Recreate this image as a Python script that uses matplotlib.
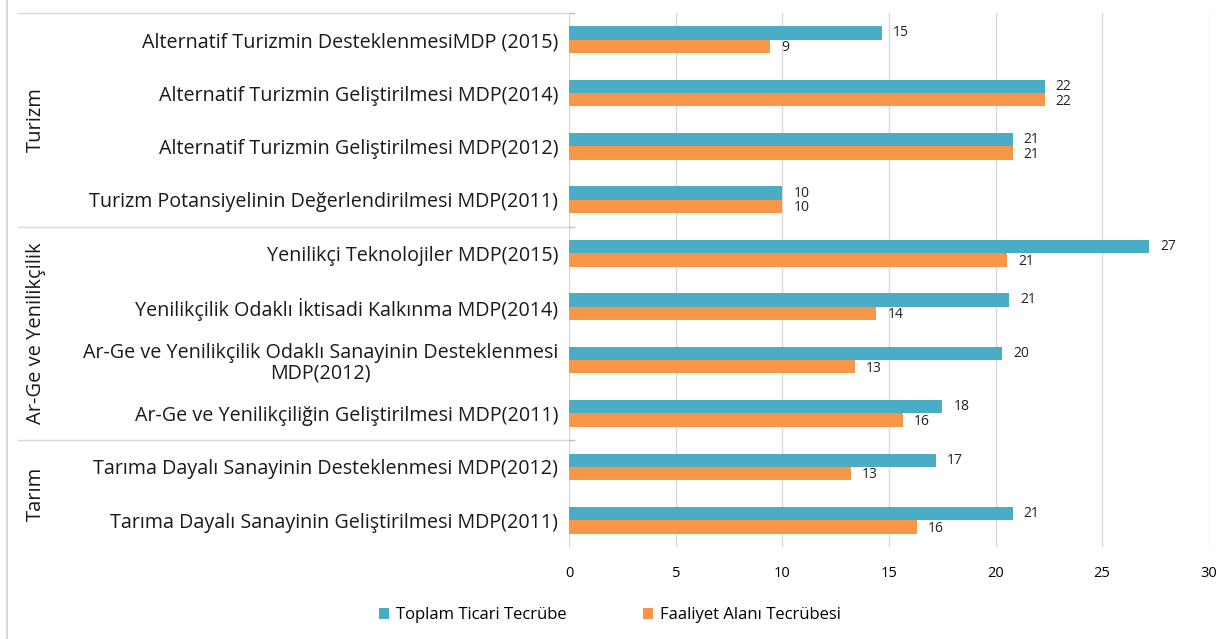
import numpy as np
import matplotlib
matplotlib.use("Agg")
import matplotlib.pyplot as plt
import matplotlib.transforms as mtransforms
from matplotlib.lines import Line2D

plt.rcParams['font.family'] = ['Open Sans', 'DejaVu Sans']

# data
programs = [
    "Alternatif Turizmin DesteklenmesiMDP (2015)",
    "Alternatif Turizmin Geliştirilmesi MDP(2014)",
    "Alternatif Turizmin Geliştirilmesi MDP(2012)",
    "Turizm Potansiyelinin Değerlendirilmesi MDP(2011)",
    "Yenilikçi Teknolojiler MDP(2015)",
    "Yenilikçilik Odaklı İktisadi Kalkınma MDP(2014)",
    "Ar-Ge ve Yenilikçilik Odaklı Sanayinin Desteklenmesi\nMDP(2012)",
    "Ar-Ge ve Yenilikçiliğin Geliştirilmesi MDP(2011)",
    "Tarıma Dayalı Sanayinin Desteklenmesi MDP(2012)",
    "Tarıma Dayalı Sanayinin Geliştirilmesi MDP(2011)",
]
toplam = [14.65, 22.3, 20.8, 10.0, 27.2, 20.65, 20.3, 17.5, 17.2, 20.8]
faaliyet = [9.4, 22.3, 20.8, 10.0, 20.55, 14.4, 13.4, 15.65, 13.2, 16.3]
groups = ["Turizm", "Ar-Ge ve Yenilikçilik", "Tarım"]
group_sizes = [4, 4, 2]
series_names = ["Toplam Ticari Tecrübe", "Faaliyet Alanı Tecrübesi"]

teal = "#4BACC6"
orange = "#F79646"

fig = plt.figure(figsize=(12.32, 6.39), dpi=100)
ax = fig.add_axes([0.4622, 0.144, 0.5188, 0.8358])

y = np.arange(len(programs))
h = 0.25
b1 = ax.barh(y - h / 2, toplam, height=h, color=teal, label=series_names[0])
b2 = ax.barh(y + h / 2, faaliyet, height=h, color=orange, label=series_names[1])

# value labels
for yi, v in zip(y, toplam):
    ax.annotate(f"{round(v)}", (v, yi - h / 2), xytext=(8, 0), textcoords="offset points",
                va="center", ha="left", fontsize=10, color="#222222")
for yi, v in zip(y, faaliyet):
    ax.annotate(f"{round(v)}", (v, yi + h / 2), xytext=(8, -1), textcoords="offset points",
                va="center", ha="left", fontsize=10, color="#222222")

ax.set_xlim(0, 30)
ax.set_ylim(len(programs) - 0.5, -0.5)
ax.set_xticks(np.arange(0, 31, 5))
ax.set_yticks(y)
ax.set_yticklabels(programs, fontsize=14.2, ha="right", multialignment="center",
                   color="#1a1a1a", linespacing=1.05)
ax.tick_params(axis="y", length=0, pad=8)
ax.tick_params(axis="x", length=0, pad=14, labelsize=10.5)
ax.grid(axis="x", color="#d9d9d9", linewidth=1)
ax.set_axisbelow(True)
for s in ax.spines.values():
    s.set_visible(False)

# group separators and group labels on the left
trans = mtransforms.blended_transform_factory(fig.transFigure, ax.transData)
bounds = np.concatenate([[0], np.cumsum(group_sizes)]) - 0.5
for b in bounds[:-1]:
    ax.add_line(Line2D([0.0146, 0.4622], [b, b], transform=trans, color="#d9d9d9",
                       linewidth=1, clip_on=False))
    ax.add_line(Line2D([0.4622, 0.4662], [b, b], transform=trans, color="#bfbfbf",
                       linewidth=1, clip_on=False))
for g, lo, hi in zip(groups, bounds[:-1], bounds[1:]):
    ax.text(0.029, (lo + hi) / 2, g, transform=trans, rotation=90, ha="center",
            va="center", fontsize=14.5, color="#1a1a1a")

# outer frame line at the left edge
fig.add_artist(Line2D([0.0057, 0.0057], [0, 1], transform=fig.transFigure,
                      color="#d0d0d0", linewidth=1.2))

fig.legend(handles=[b1, b2], labels=series_names, loc="center", ncol=2,
           bbox_to_anchor=(0.495, 0.037), frameon=False, fontsize=12,
           handlelength=0.6, handleheight=0.6, columnspacing=4.6, handletextpad=0.4)

fig.savefig("out.png", dpi=100)
